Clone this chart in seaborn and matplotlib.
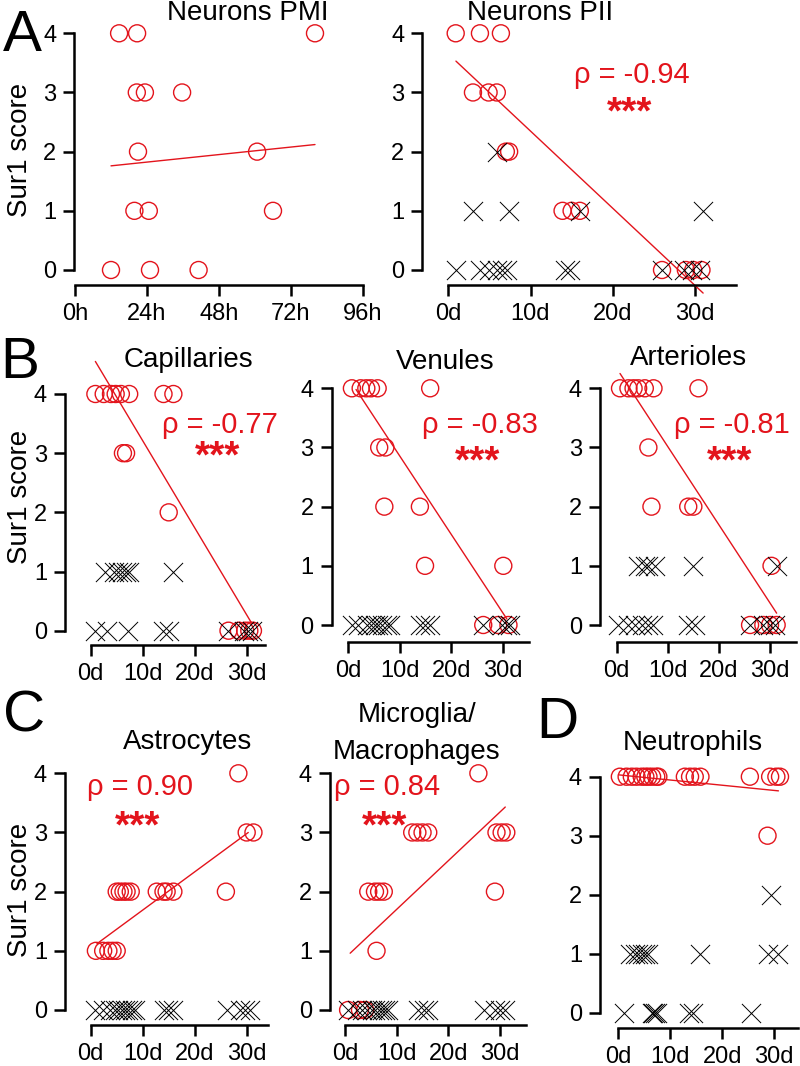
import matplotlib
matplotlib.use("Agg")
import matplotlib.pyplot as plt
from matplotlib import font_manager
import seaborn as sns

# Sur1 score vs. time, open circles = cell type present, crosses = absent
score_ticks = [0, 1, 2, 3, 4]
day_ticks = [0, 10, 20, 30]
day_labels = ["0d", "10d", "20d", "30d"]
hour_ticks = [0, 24, 48, 72, 96]
hour_labels = ["0h", "24h", "48h", "72h", "96h"]

# A - Neurons PMI (hours)
pmi_circ_x = [14.7, 20.7, 80, 20.6, 23.3, 35.7, 21, 60.7, 19.8, 24.6, 66, 12, 25, 41.2]
pmi_circ_y = [4, 4, 4, 3, 3, 3, 2, 2, 1, 1, 1, 0, 0, 0]
pmi_fit_x = [12, 80]
pmi_fit_y = [1.76, 2.12]

# A - Neurons PII (days)
pii_circ_x = [0.9, 3.85, 6.4, 3.0, 4.9, 5.9, 7.0, 7.4, 13.9, 15.0, 16.0, 26.0, 28.9, 29.8, 30.8]
pii_circ_y = [4, 4, 4, 3, 3, 3, 2, 2, 1, 1, 1, 0, 0, 0, 0]
pii_cross_x = [5.9, 3.0, 7.4, 16.0, 31.0, 0.9, 3.85, 4.9, 5.9, 6.5, 7.1, 14.2, 14.8, 26.0, 28.7, 29.6, 30.6]
pii_cross_y = [2, 1, 1, 1, 1, 0, 0, 0, 0, 0, 0, 0, 0, 0, 0, 0, 0]
pii_fit_x = [0.93, 31]
pii_fit_y = [3.53, -0.39]

# B - Capillaries
cap_circ_x = [0.9, 2.5, 3.9, 4.8, 5.8, 7.4, 14.0, 15.9, 6.2, 6.8, 15.0, 26.5, 28.5, 29.7, 30.5, 31.2]
cap_circ_y = [4, 4, 4, 4, 4, 4, 4, 4, 3, 3, 2, 0, 0, 0, 0, 0]
cap_cross_x = [2.7, 4.5, 5.3, 6.0, 6.7, 7.4, 15.9, 0.9, 3.2, 7.1, 14.0, 15.0, 26.5, 29.5, 30.3, 31.0]
cap_cross_y = [1, 1, 1, 1, 1, 1, 1, 0, 0, 0, 0, 0, 0, 0, 0, 0]
cap_fit_x = [0.9, 31]
cap_fit_y = [4.55, 0.12]

# B - Venules
ven_circ_x = [0.7, 2.4, 3.5, 4.4, 5.7, 15.9, 6.0, 7.2, 7.0, 13.9, 14.9, 30.1, 26.2, 29.1, 31.1]
ven_circ_y = [4, 4, 4, 4, 4, 4, 3, 3, 2, 2, 1, 1, 0, 0, 0]
ven_cross_x = [0.7, 1.9, 3.6, 4.5, 5.2, 5.8, 6.5, 7.5, 8.1, 13.9, 14.9, 15.9, 26.2, 29.8, 30.8, 31.4]
ven_cross_y = [0] * 16
ven_fit_x = [1.5, 30.8]
ven_fit_y = [3.98, 0.1]

# B - Arterioles
art_circ_x = [0.65, 2.3, 3.3, 4.2, 5.5, 7.2, 16.0, 6.2, 6.8, 14.0, 15.0, 30.3, 26.1, 28.7, 30.0, 31.3]
art_circ_y = [4, 4, 4, 4, 4, 4, 4, 3, 2, 2, 2, 1, 0, 0, 0, 0]
art_cross_x = [4.2, 5.5, 6.2, 7.5, 15.0, 31.3, 0.3, 2.3, 3.6, 4.9, 6.2, 7.2, 14.0, 15.3, 26.1, 28.7, 30.0, 31.0]
art_cross_y = [1, 1, 1, 1, 1, 1, 0, 0, 0, 0, 0, 0, 0, 0, 0, 0, 0, 0]
art_fit_x = [0.65, 31.3]
art_fit_y = [4.25, 0.2]

# C - Astrocytes
ast_circ_x = [28.4, 30.0, 31.3, 5.0, 5.6, 6.3, 6.9, 7.7, 12.7, 14.0, 14.6, 15.9, 26.0, 1.0, 2.4, 3.4, 4.2, 5.0]
ast_circ_y = [4, 3, 3, 2, 2, 2, 2, 2, 2, 2, 2, 2, 2, 1, 1, 1, 1, 1]
ast_cross_x = [0.8, 2.4, 3.7, 4.6, 5.3, 6.0, 6.6, 7.2, 7.9, 8.5, 14.0, 14.9, 15.9, 26.2, 28.7, 29.7, 30.6]
ast_cross_y = [0] * 17
ast_fit_x = [1.2, 30.3]
ast_fit_y = [1.12, 3.0]

# C - Microglia/Macrophages
mic_circ_x = [25.8, 13.0, 14.0, 15.0, 16.1, 29.3, 30.3, 31.2, 4.5, 5.8, 6.6, 7.5, 29.0, 6.1, 0.6, 2.9, 3.9]
mic_circ_y = [4, 3, 3, 3, 3, 3, 3, 3, 2, 2, 2, 2, 2, 1, 0, 0, 0]
mic_cross_x = [0.6, 2.3, 3.2, 4.2, 5.2, 5.8, 6.5, 7.1, 7.7, 8.4, 14.2, 15.2, 16.1, 26.8, 29.0, 30.0, 31.0]
mic_cross_y = [0] * 17
mic_fit_x = [1.0, 31]
mic_fit_y = [0.96, 3.43]

# D - Neutrophils
neu_circ_x = [0.3, 1.6, 2.6, 3.5, 4.5, 5.2, 5.8, 6.5, 7.3, 7.7, 12.8, 13.8, 14.7, 15.8, 25.3, 29.2, 30.4, 31.1, 28.7]
neu_circ_y = [4] * 18 + [3]
neu_cross_x = [29.3, 2.3, 3.2, 3.8, 4.5, 5.1, 5.8, 15.7, 28.8, 30.7, 1.0, 6.4, 6.7, 7.0, 7.4, 13.5, 14.4, 25.6]
neu_cross_y = [2, 1, 1, 1, 1, 1, 1, 1, 1, 1, 0, 0, 0, 0, 0, 0, 0, 0]
neu_fit_x = [0.2, 30.8]
neu_fit_y = [4.03, 3.76]

RED = "#e3141c"
W, H = 800, 1066

sns.set_style("ticks", {"axes.edgecolor": "black", "xtick.color": "black",
                        "ytick.color": "black", "text.color": "black"})
plt.rcParams["font.family"] = ["Liberation Sans", "DejaVu Sans"]
names = {f.name for f in font_manager.fontManager.ttflist}
narrow = "Liberation Sans Narrow" in names
rho_font = ["Liberation Sans Narrow", "DejaVu Sans"] if narrow else ["Liberation Sans", "DejaVu Sans"]
rho_size = 26 if narrow else 21

fig = plt.figure(figsize=(W / 100, H / 100), dpi=100)


def ftext(x, y, s, **kw):
    kw.setdefault("ha", "center")
    kw.setdefault("va", "center")
    kw.setdefault("color", "black")
    fig.text(x / W, 1 - y / H, s, **kw)


def make_ax(spine_x, x0, sc, y4, y0, axis_y, xend):
    unit = (y0 - y4) / 4
    top = y4 - 25
    right = x0 + xend * sc + 4
    ax = fig.add_axes([spine_x / W, 1 - axis_y / H, (right - spine_x) / W, (axis_y - top) / H])
    ax.set_xlim((spine_x - x0) / sc, (right - x0) / sc)
    ax.set_ylim(-(axis_y - y0) / unit, 4 + (y4 - top) / unit)
    sns.despine(ax=ax)
    ax.spines["left"].set_bounds(0, 4)
    ax.spines["bottom"].set_bounds(0, xend)
    for s in ["left", "bottom"]:
        ax.spines[s].set_linewidth(1.8)
        ax.spines[s].set_color("black")
    ax.tick_params(length=8, width=1.8, labelsize=17, pad=5, colors="black")
    ax.set_yticks(score_ticks)
    ax.set_facecolor("none")
    return ax


def draw(ax, cx, cy, xx=None, xy=None, fx=None, fy=None):
    sns.scatterplot(x=cx, y=cy, ax=ax, marker="o", s=150, facecolor="none",
                    edgecolor=RED, linewidth=1.0, clip_on=False, zorder=3)
    if xx is not None:
        sns.scatterplot(x=xx, y=xy, ax=ax, marker="x", s=190, color="black",
                        linewidth=0.7, clip_on=False, zorder=4)
    sns.lineplot(x=fx, y=fy, ax=ax, color=RED, linewidth=1.0, clip_on=False, zorder=2)
    ax.set_xlabel("")
    ax.set_ylabel("")


# Row A
ax = make_ax(74.3, 75, 3.0, 33.3, 270, 285, 96)
draw(ax, pmi_circ_x, pmi_circ_y, fx=pmi_fit_x, fy=pmi_fit_y)
ax.set_xticks(hour_ticks, hour_labels)

ax = make_ax(422.3, 448.3, 8.22, 33.3, 270, 285, 35)
draw(ax, pii_circ_x, pii_circ_y, pii_cross_x, pii_cross_y, pii_fit_x, pii_fit_y)
ax.set_xticks(day_ticks, day_labels)

# Row B
ax = make_ax(65, 90.7, 5.2, 394, 630.7, 645, 33.5)
draw(ax, cap_circ_x, cap_circ_y, cap_cross_x, cap_cross_y, cap_fit_x, cap_fit_y)
ax.set_xticks(day_ticks, day_labels)

ax = make_ax(331.7, 348.3, 5.15, 388.3, 625, 641.7, 35)
draw(ax, ven_circ_x, ven_circ_y, ven_cross_x, ven_cross_y, ven_fit_x, ven_fit_y)
ax.set_xticks(day_ticks, day_labels)

ax = make_ax(600, 616.7, 5.11, 388.3, 625, 641.7, 35)
draw(ax, art_circ_x, art_circ_y, art_cross_x, art_cross_y, art_fit_x, art_fit_y)
ax.set_xticks(day_ticks, day_labels)

# Row C / D
ax = make_ax(65, 90.7, 5.2, 773.3, 1010, 1025, 34)
draw(ax, ast_circ_x, ast_circ_y, ast_cross_x, ast_cross_y, ast_fit_x, ast_fit_y)
ax.set_xticks(day_ticks, day_labels)

ax = make_ax(330, 345, 5.17, 773.3, 1010, 1025, 35)
draw(ax, mic_circ_x, mic_circ_y, mic_cross_x, mic_cross_y, mic_fit_x, mic_fit_y)
ax.set_xticks(day_ticks, day_labels)

ax = make_ax(600, 618.3, 5.2, 776.7, 1012.7, 1028, 34.5)
draw(ax, neu_circ_x, neu_circ_y, neu_cross_x, neu_cross_y, neu_fit_x, neu_fit_y)
ax.set_xticks(day_ticks, day_labels)

# titles
for x, y, t in [(248, 13, "Neurons PMI"), (540, 13, "Neurons PII"),
                (188, 360, "Capillaries"), (445, 362, "Venules"), (689, 358, "Arterioles"),
                (188, 742, "Astrocytes"), (417, 715, "Microglia/"), (417, 752, "Macrophages"),
                (693, 743, "Neutrophils")]:
    ftext(x, y, t, fontsize=20)

# panel letters
for x, y, t in [(22, 36, "A"), (20, 363, "B"), (24, 717, "C"), (557, 723, "D")]:
    ftext(x, y, t, fontsize=42)

# y labels
for y in [150, 497, 890]:
    ftext(20, y, "Sur1 score", fontsize=20, rotation=90)

# correlation annotations
for x, y, t, sy in [(632, 75, "ρ = -0.94", 113), (220, 425, "ρ = -0.77", 457),
                    (480, 425, "ρ = -0.83", 462), (732, 425, "ρ = -0.81", 462),
                    (140, 787, "ρ = 0.90", 827), (387, 787, "ρ = 0.84", 827)]:
    ftext(x, y, t, fontsize=rho_size, color=RED, family=rho_font)
    ftext(x - 2, sy, "***", fontsize=28, fontweight="bold", color=RED)

fig.savefig("out.png", dpi=100)
